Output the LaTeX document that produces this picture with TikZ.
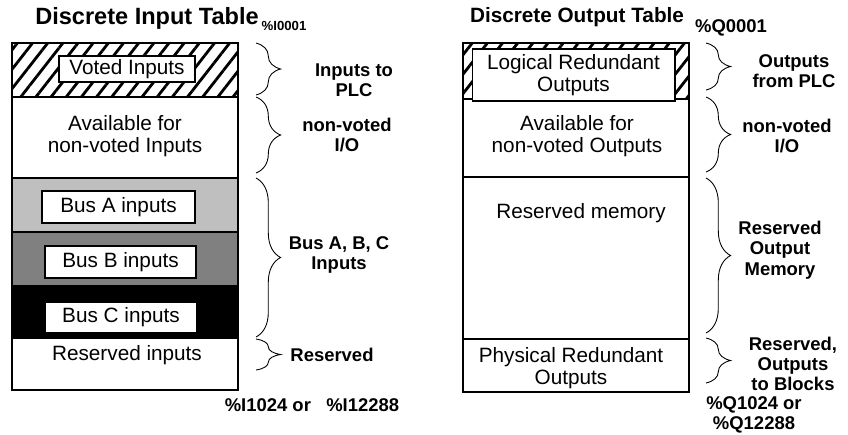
\documentclass[tikz,border=0pt]{standalone}
\usepackage{fontspec}
\setmainfont{Liberation Sans}
\usetikzlibrary{patterns.meta, decorations.pathreplacing}

\tikzset{
    txt/.style={inner sep=0pt, align=center, font=\fontsize{11.8}{12.6}\selectfont},
    lbl/.style={inner sep=0pt, align=center, font=\bfseries\fontsize{10.5}{11.6}\selectfont},
    box/.style={txt, draw, fill=white},
    brc/.style={decorate, decoration={brace, amplitude=14pt}, line width=0.5pt},
    hatch/.style={pattern={Lines[angle=52, distance=6.8pt, line width=1.6pt]}},
}

\begin{document}
\begin{tikzpicture}[x=0.02cm, y=-0.02cm]
    \useasboundingbox (0,0) rectangle (848,434);

    % input table
    \fill[hatch] (12,43) rectangle (238,97);
    \fill[black!25] (12,178) rectangle (238,232);
    \fill[black!50] (12,232) rectangle (238,285);
    \fill[black] (12,285) rectangle (238,339);
    \draw[line width=0.6pt] (12,43) rectangle (238,390);
    \draw[line width=0.6pt] (12,97) -- (238,97) (12,178) -- (238,178) (12,232) -- (238,232);

    \node[font=\bfseries\fontsize{13.4}{14}\selectfont, inner sep=0pt] (intitle) at (147,18) {Discrete Input Table};
    \node[font=\bfseries\fontsize{7.5}{8}\selectfont, inner sep=0pt] (infirst) at (284,26) {\%I0001};
    \node[box, line width=0.6pt, minimum width=2.72cm, minimum height=0.52cm] (voted) at (127,69) {Voted Inputs};
    \node[txt] (availin) at (125,136) {Available for\\non-voted Inputs};
    \node[box, line width=1.3pt, minimum width=3.06cm, minimum height=0.64cm] (busa) at (118.5,207) {Bus A inputs};
    \node[box, line width=1.3pt, minimum width=3.02cm, minimum height=0.64cm] (busb) at (120.5,262) {Bus B inputs};
    \node[txt, fill=white, minimum width=3.0cm, minimum height=0.58cm] (busc) at (121,317.5) {Bus C inputs};
    \node[txt] (resin) at (127,355) {Reserved inputs};

    \draw[brc] (256,43) -- (256,95);
    \draw[brc] (256,97) -- (256,173);
    \draw[brc] (256,178) -- (256,337);
    \draw[brc] (256,339) -- (256,370);
    \node[lbl] (toplc) at (354,80) {Inputs to\\PLC};
    \node[lbl] (nvin) at (347,135) {non-voted\\I/O};
    \node[lbl] (busall) at (339,255) {Bus A, B, C\\Inputs};
    \node[lbl] (resvin) at (332,355) {Reserved};
    \node[lbl] (inlast) at (312,405) {\%I1024 or~~~\%I12288};

    % output table
    \fill[hatch] (463,43) rectangle (689,99);
    \draw[line width=0.6pt] (463,43) rectangle (689,392);
    \draw[line width=0.6pt] (463,99) -- (689,99);
    \draw[line width=1.3pt] (463,177) -- (689,177) (463,339) -- (689,339);

    \node[font=\bfseries\fontsize{11.8}{13}\selectfont, inner sep=0pt] (outtitle) at (577,17) {Discrete Output Table};
    \node[font=\bfseries\fontsize{10.5}{12}\selectfont, inner sep=0pt] (outfirst) at (731,28) {\%Q0001};
    \node[box, line width=0.6pt, minimum width=4.06cm, minimum height=1.04cm] (logical) at (573.5,75) {Logical Redundant\\Outputs};
    \node[txt] (availout) at (577,136) {Available for\\non-voted Outputs};
    \node[txt] (resmem) at (581,213) {Reserved memory};
    \node[txt] (phys) at (571,368) {Physical Redundant\\Outputs};

    \draw[brc] (706,43) -- (706,90);
    \draw[brc] (706,97) -- (706,172);
    \draw[brc] (706,178) -- (706,333);
    \draw[brc] (706,338) -- (706,383);
    \node[lbl] (fromplc) at (794,71) {Outputs\\from PLC};
    \node[lbl] (nvout) at (787,136) {non-voted\\I/O};
    \node[lbl] (resout) at (780,250) {Reserved\\Output\\Memory};
    \node[lbl] (toblk) at (793,364) {Reserved,\\Outputs\\to Blocks};
    \node[lbl] (outlast) at (754,415) {\%Q1024 or\\\%Q12288};
\end{tikzpicture}
\end{document}
